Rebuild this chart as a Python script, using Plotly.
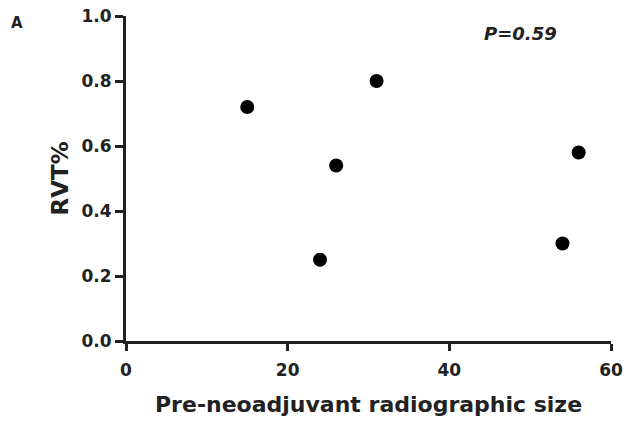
import plotly.graph_objects as go

size = [15, 24, 26, 31, 54, 56]
rvt = [0.72, 0.25, 0.54, 0.80, 0.30, 0.58]
x_ticks = [0, 20, 40, 60]
y_ticks = [0.0, 0.2, 0.4, 0.6, 0.8, 1.0]
y_labels = ["0.0", "0.2", "0.4", "0.6", "0.8", "1.0"]

FONT = "DejaVu Sans, Arial, sans-serif"
INK = "#222222"

fig = go.Figure()
fig.add_trace(go.Scatter(
    x=size, y=rvt, mode="markers",
    marker=dict(size=14, color="black"),
    showlegend=False, cliponaxis=False,
))

fig.update_layout(
    width=626, height=426,
    margin=dict(l=126, r=15, t=16, b=85),
    paper_bgcolor="white", plot_bgcolor="white",
    font=dict(family=FONT, color=INK),
    xaxis=dict(
        range=[0, 60], tickvals=x_ticks, ticktext=[str(v) for v in x_ticks],
        automargin=False,
        showgrid=False, zeroline=False, showline=True, linecolor=INK, linewidth=3,
        ticks="outside", ticklen=7, tickwidth=3, tickcolor=INK,
        ticklabelstandoff=5,
        tickfont=dict(size=17, family=FONT, color=INK, weight="bold"),
    ),
    yaxis=dict(
        range=[0, 1], tickvals=y_ticks, ticktext=y_labels,
        automargin=False,
        showgrid=False, zeroline=False, showline=True, linecolor=INK, linewidth=3,
        ticks="outside", ticklen=8, tickwidth=3, tickcolor=INK,
        tickfont=dict(size=17, family=FONT, color=INK, weight="bold"),
    ),
    annotations=[
        dict(text="<b>Pre-neoadjuvant radiographic size</b>", x=0.5, y=0,
             xref="paper", yref="paper", showarrow=False,
             font=dict(size=22, family=FONT, color=INK),
             xanchor="center", yanchor="middle", yshift=-63),
        dict(text="<b>RVT%</b>", x=0, y=0.5, xref="paper", yref="paper",
             showarrow=False, textangle=-90,
             font=dict(size=23, family=FONT, color=INK),
             xanchor="center", yanchor="middle", xshift=-67),
        dict(text="<b><i>P=0.59</i></b>", x=0.5, y=1.0, xref="paper", yref="paper",
             showarrow=False, font=dict(size=18, family=FONT, color=INK),
             xanchor="center", yanchor="middle", xshift=152, yshift=-17),
        dict(text="<b>A</b>", x=0, y=1, xref="paper", yref="paper",
             showarrow=False, font=dict(size=15, family=FONT, color=INK),
             xanchor="center", yanchor="middle", xshift=-109, yshift=-7),
    ],
)

fig.write_html(
    "out.html",
    config={"displayModeBar": False},
    post_script="document.body.style.margin='0';document.body.style.padding='0';",
)
